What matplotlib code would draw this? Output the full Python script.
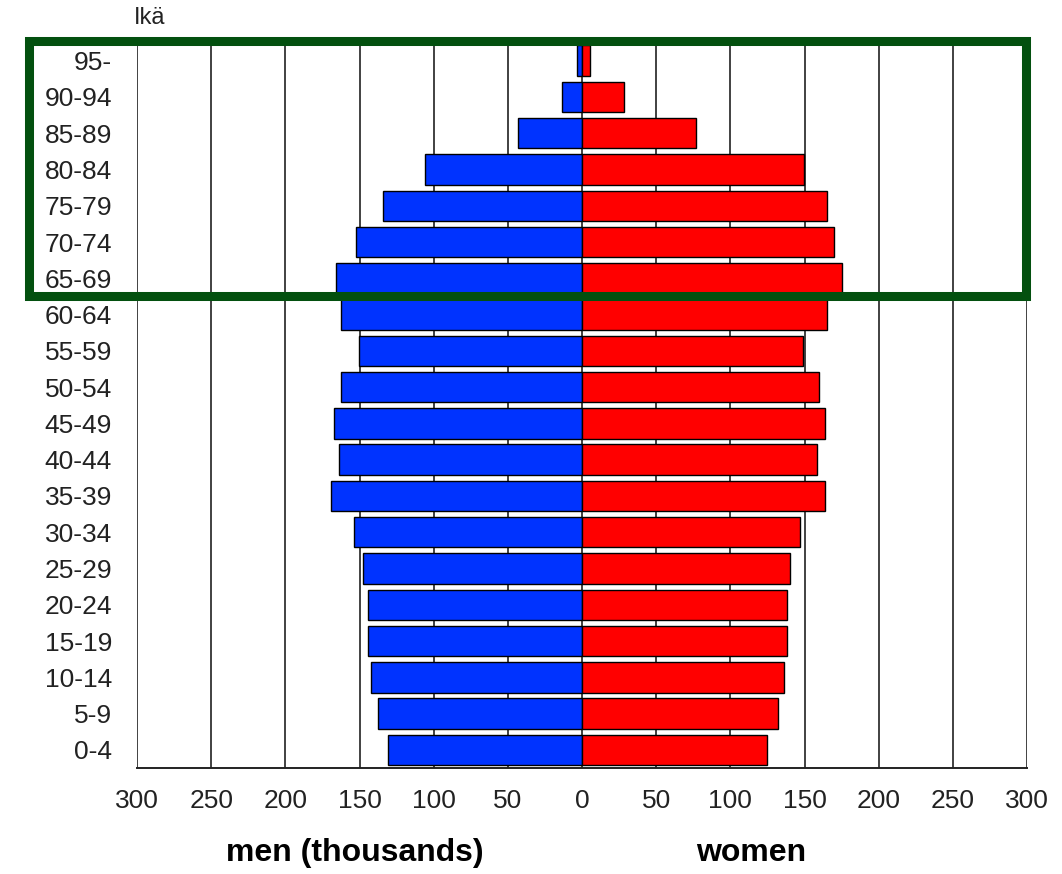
import numpy as np
import matplotlib
matplotlib.use("Agg")
import matplotlib.pyplot as plt
from matplotlib.patches import Rectangle

plt.rcParams['font.family'] = ['Liberation Sans', 'DejaVu Sans']

# age groups, bottom to top
ages = ['0-4', '5-9', '10-14', '15-19', '20-24', '25-29', '30-34', '35-39',
        '40-44', '45-49', '50-54', '55-59', '60-64', '65-69', '70-74',
        '75-79', '80-84', '85-89', '90-94', '95-']

# thousands
men = [131, 137.5, 142.5, 144.5, 144.5, 147.5, 154, 169, 164, 167.5,
       162.5, 150.5, 162.5, 166, 152.5, 134, 106, 43, 13.5, 3.6]
women = [125, 132, 136.5, 138.5, 138.5, 140, 147, 164, 158.5, 164,
         160, 149, 165, 175, 170, 165, 149.5, 77, 28.5, 5.3]

xticks = [-300, -250, -200, -150, -100, -50, 0, 50, 100, 150, 200, 250, 300]

W, H = 1062, 874
fig = plt.figure(figsize=(W / 100, H / 100), dpi=100)
ax = fig.add_axes([137 / W, (H - 768) / H, 890 / W, (768 - 42.5) / H])

y = np.arange(len(ages))
ax.barh(y, -np.array(men), height=0.84, color='#0033ff', edgecolor='black',
        linewidth=1.0, zorder=3)
ax.barh(y, women, height=0.84, color='#ff0000', edgecolor='black',
        linewidth=1.0, zorder=3)

ax.set_xlim(-300, 300)
ax.set_ylim(-0.5, len(ages) - 0.5)

ax.set_xticks(xticks)
ax.set_xticklabels([str(abs(v)) for v in xticks])
ax.set_yticks(y)
ax.set_yticklabels(ages)
ax.tick_params(axis='both', length=0, labelsize=19, colors='#222222')
ax.tick_params(axis='y', pad=18)
ax.tick_params(axis='x', pad=15)

for v in xticks:
    ax.axvline(v, color='#333333', linewidth=1.3, zorder=1)

for s in ['top', 'left', 'right']:
    ax.spines[s].set_visible(False)
ax.spines['bottom'].set_color('#222222')
ax.spines['bottom'].set_linewidth(1.4)

fig.text(355 / W, 1 - 853 / H, 'men (thousands)', ha='center', va='center',
         fontsize=23, fontweight='bold')
fig.text(751 / W, 1 - 853 / H, 'women', ha='center', va='center',
         fontsize=23, fontweight='bold')
fig.text(150 / W, 1 - 18 / H, 'Ikä', ha='center', va='center',
         fontsize=17, color='#222222')

# highlight box
box = Rectangle((28.5 / W, 1 - 296 / H), (1025.5 - 28.5) / W, (296 - 41) / H,
                transform=fig.transFigure, fill=False, edgecolor='#03500f',
                linewidth=6.5, zorder=10)
fig.add_artist(box)

fig.savefig('out.png', dpi=100, facecolor='white')
